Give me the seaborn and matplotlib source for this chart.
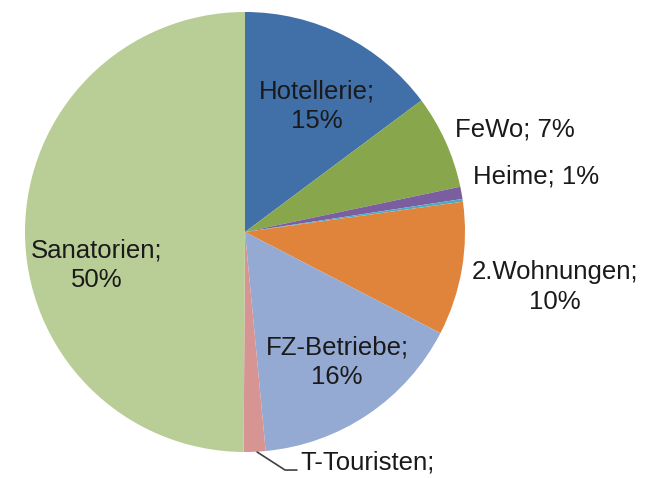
import matplotlib
matplotlib.use("Agg")
import matplotlib.pyplot as plt
import seaborn as sns

# Shares per accommodation type, clockwise from 12 o'clock
categories = ["Hotellerie", "FeWo", "Heime", "Sonstige", "2.Wohnungen",
              "FZ-Betriebe", "T-Touristen", "Sanatorien"]
shares = [14.8, 6.9, 0.9, 0.2, 9.8, 15.9, 1.6, 49.9]
label_texts = ["Hotellerie;\n15%", "FeWo; 7%", "Heime; 1%", None,
               "2.Wohnungen;\n10%", "FZ-Betriebe;\n16%", "T-Touristen;",
               "Sanatorien;\n50%"]
colors = ["#4170A8", "#88A64C", "#7B5EA0", "#4BACC6", "#E0843C",
          "#95AAD3", "#D69593", "#B9CD96"]


def main():
    sns.set_theme(style="white")
    plt.rcParams["font.family"] = ["Liberation Sans", "DejaVu Sans"]

    fig = plt.figure(figsize=(6.58, 4.78), dpi=100)
    ax = fig.add_axes([0.038, 0.0544, 0.6687, 0.9205])

    ax.pie(shares, colors=sns.color_palette(colors), startangle=90,
           counterclock=False, radius=1,
           wedgeprops={"linewidth": 0})

    # label positions in data units (pie radius = 1)
    pos = [(0.327, 0.57), (1.227, 0.464), (1.323, 0.25), None,
           (1.409, -0.25), (0.418, -0.591), (0.25, -1.05), (-0.673, -0.15)]
    for txt, p in zip(label_texts, pos):
        if txt is None:
            continue
        ha = "left" if txt == "T-Touristen;" else "center"
        ax.text(p[0], p[1], txt, ha=ha, va="center", fontsize=18.5,
                color="#1a1a1a", linespacing=1.3)

    # leader line for T-Touristen
    ax.plot([0.055, 0.182, 0.236], [-1.0, -1.082, -1.082],
            color="#404040", lw=1.2, clip_on=False)

    ax.set_xlim(-1, 1)
    ax.set_ylim(-1, 1)
    ax.set_aspect("equal")
    ax.axis("off")

    fig.savefig("out.png", dpi=100)
    plt.close(fig)


if __name__ == "__main__":
    main()
